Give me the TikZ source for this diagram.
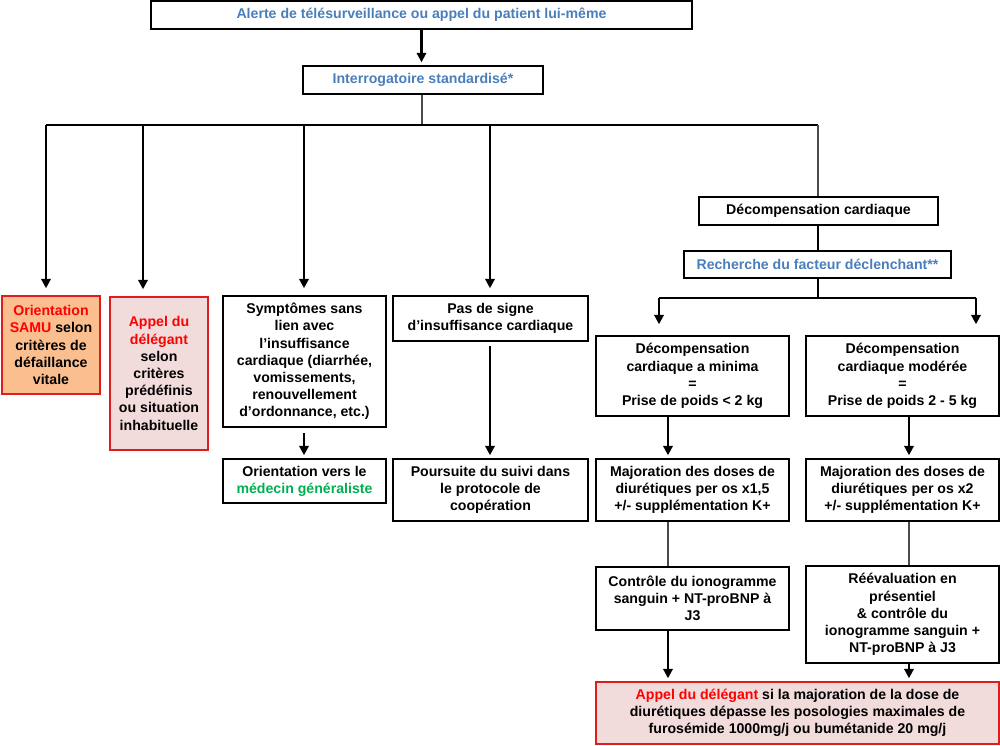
\documentclass[tikz,border=0pt]{standalone}
\usepackage{fontspec}
\setmainfont{Liberation Sans}
\usetikzlibrary{arrows.meta}
\definecolor{blu}{RGB}{74,126,187}
\definecolor{rd}{RGB}{255,0,0}
\definecolor{bordr}{RGB}{222,30,30}
\definecolor{orfill}{RGB}{250,190,143}
\definecolor{pkfill}{RGB}{242,220,219}
\definecolor{grn}{RGB}{0,176,80}
\begin{document}
\begin{tikzpicture}[x=0.75pt,y=-0.75pt,
  box/.style={draw, line width=1.6pt, align=center, inner sep=2pt,
    font=\bfseries\fontsize{10.6}{12.9}\selectfont},
  wh/.style 2 args={minimum width=#1*0.75pt, minimum height=#2*0.75pt},
  redbox/.style={box, draw=bordr},
  arr/.style={line width=1.6pt, -{Triangle[length=7pt,width=7pt]}, shorten >=2pt},
  thick line/.style={line width=1.6pt},
  thin line/.style={line width=0.8pt, draw=black!70}]
\useasboundingbox (0,0) rectangle (1000,746);

% nodes
\node[box, wh={541}{28}, text=blu] (alert) at (421.5,15) {Alerte de télésurveillance ou appel du patient lui-même};
\node[box, wh={240}{28}, text=blu] (interro) at (423,80) {Interrogatoire standardisé*};

\node[redbox, fill=orfill, wh={98}{98}] (samu) at (51,345)
  {\textcolor{rd}{Orientation}\\\textcolor{rd}{SAMU} selon\\critères de\\défaillance\\vitale};
\node[redbox, fill=pkfill, wh={98}{153}] (appel) at (159,373.5)
  {\textcolor{rd}{Appel du}\\\textcolor{rd}{délégant}\\selon\\critères\\prédéfinis\\ou situation\\inhabituelle};
\node[box, wh={163}{131}] (sympt) at (304.5,361.5)
  {Symptômes sans\\lien avec\\l’insuffisance\\cardiaque (diarrhée,\\vomissements,\\renouvellement\\d’ordonnance, etc.)};
\node[box, wh={163}{44}] (mg) at (304.5,481)
  {Orientation vers le\\\textcolor{grn}{médecin généraliste}};
\node[box, wh={195}{45}] (pas) at (490.5,318.5)
  {Pas de signe\\d’insuffisance cardiaque};
\node[box, wh={195}{62}] (pours) at (490.5,490)
  {Poursuite du suivi dans\\le protocole de\\coopération};

\node[box, wh={239}{28}] (decomp) at (818.5,211) {Décompensation cardiaque};
\node[box, wh={267}{27}, text=blu] (rech) at (817.5,264.5) {Recherche du facteur déclenchant**};
\node[box, wh={193}{80}] (mini) at (692.5,376)
  {Décompensation\\cardiaque a minima\\=\\Prise de poids < 2 kg};
\node[box, wh={193}{80}] (mod) at (902.5,376)
  {Décompensation\\cardiaque modérée\\=\\Prise de poids 2 - 5 kg};
\node[box, wh={193}{62}] (maj1) at (692.5,490)
  {Majoration des doses de\\diurétiques per os x1,5\\+/- supplémentation K+};
\node[box, wh={193}{62}] (maj2) at (902.5,490)
  {Majoration des doses de\\diurétiques per os x2\\+/- supplémentation K+};
\node[box, wh={193}{63}] (ctrl) at (692.5,598.5)
  {Contrôle du ionogramme\\sanguin + NT-proBNP à\\J3};
\node[box, wh={193}{97}] (reev) at (902.5,614.5)
  {Réévaluation en\\présentiel\\\& contrôle du\\ionogramme sanguin +\\NT-proBNP à J3};
\node[redbox, fill=pkfill, wh={403}{62}] (fin) at (797.5,713)
  {\textcolor{rd}{Appel du délégant} si la majoration de la dose de\\diurétiques dépasse les posologies maximales de\\furosémide 1000mg/j ou bumétanide 20 mg/j};

% coordinates
\coordinate (bus) at (422,125);
\coordinate (b1) at (46,125);
\coordinate (b2) at (143,125);
\coordinate (b3) at (304,125);
\coordinate (b4) at (490,125);
\coordinate (b5) at (818,125);
\coordinate (split) at (818,298);
\coordinate (sL) at (659,298);
\coordinate (sR) at (976,298);
\coordinate (cL) at (668,0);
\coordinate (cR) at (909,0);

% connectors
\draw[arr] (alert.south) -- (alert.south |- interro.north);
\draw[thin line] (interro.south -| bus) -- (bus);
\draw[thick line] (b1) -- (b5);
\draw[thin line] (b5) -- (b5 |- decomp.north);
\draw[arr, shorten >=5pt] (b1) -- (b1 |- samu.north);
\draw[arr, shorten >=5pt] (b2) -- (b2 |- appel.north);
\draw[arr, shorten >=5pt] (b3) -- (b3 |- sympt.north);
\draw[arr, shorten >=5pt] (b4) -- (b4 |- pas.north);
\draw[arr, shorten <=4pt] (sympt.south -| b3) -- (mg.north -| b3);
\draw[arr, shorten <=3pt] (pas.south -| b4) -- (pours.north -| b4);

\draw[thick line] (decomp.south -| b5) -- (rech.north -| b5);
\draw[thick line] (rech.south -| split) -- (split);
\draw[thick line] (sL) -- (sR);
\draw[arr, shorten >=8pt] (sL) -- (sL |- mini.north);
\draw[arr, shorten >=8pt] (sR) -- (sR |- mod.north);
\draw[arr] (mini.south -| cL) -- (maj1.north -| cL);
\draw[arr] (mod.south -| cR) -- (maj2.north -| cR);
\draw[thin line] (maj1.south -| cL) -- (ctrl.north -| cL);
\draw[thin line] (maj2.south -| cR) -- (reev.north -| cR);
\draw[arr] (ctrl.south -| cL) -- (fin.north -| cL);
\draw[arr] (reev.south -| cR) -- (fin.north -| cR);
\end{tikzpicture}
\end{document}
